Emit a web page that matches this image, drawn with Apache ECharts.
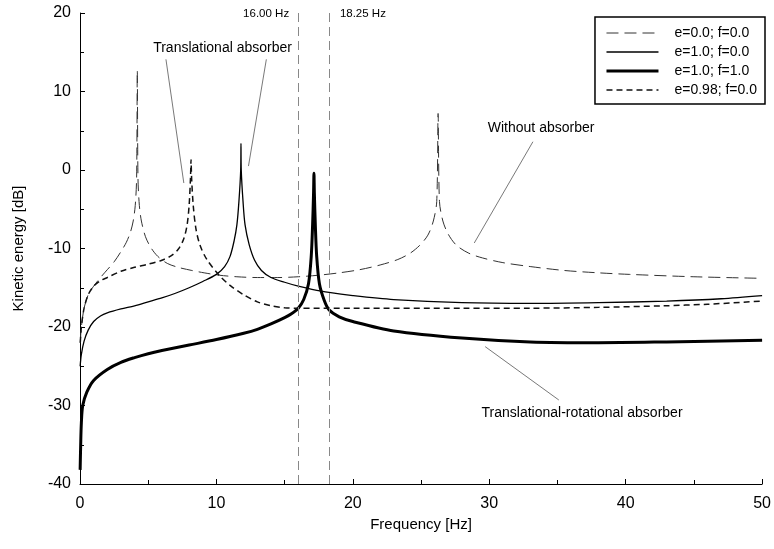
<!DOCTYPE html>
<html>
<head>
<meta charset="utf-8">
<script src="https://cdn.jsdelivr.net/npm/echarts@6/dist/echarts.min.js"></script>
<style>
  html, body { margin: 0; padding: 0; background: #fff; }
  #chart { width: 774px; height: 549px; }
</style>
</head>
<body>
<div id="chart"></div>
<script>
// frequency [Hz] / kinetic energy [dB]
var freqNoAbs = [0.02, 0.1, 0.3, 0.6, 1, 1.5, 2, 2.5, 3, 3.4, 3.7, 3.9, 4.05, 4.15, 4.2, 4.25, 4.35, 4.5, 4.8, 5.2, 5.7, 6.4, 7.2, 8.2, 9.1, 10.2, 11.5, 13, 14.5, 16, 17.5, 19, 20.5, 22, 23.3, 24.2, 24.9, 25.5, 25.9, 26.15, 26.25, 26.35, 26.6, 27.0, 27.6, 28.5, 29.5, 31, 33, 35.5, 38, 40.3, 45, 50];
var kinNoAbs  = [-22, -20, -17.6, -15.9, -14.8, -13.7, -12.7, -11.7, -10.4, -9.2, -7.9, -6.5, -4.5, -1, 12.7, -1, -4.5, -6.5, -8.5, -9.9, -11.0, -11.9, -12.4, -12.8, -13.1, -13.4, -13.6, -13.7, -13.7, -13.6, -13.4, -13.1, -12.7, -12.1, -11.4, -10.6, -9.6, -8.3, -6.5, -4, 7.2, -4, -6.5, -8.2, -9.6, -10.6, -11.2, -11.8, -12.3, -12.8, -13.1, -13.3, -13.6, -13.8];

var freqTrans = [0.01, 0.1, 0.3, 0.6, 1, 1.5, 2, 3, 4, 5, 6, 7, 8, 9, 10, 10.6, 11.0, 11.3, 11.5, 11.65, 11.78, 11.8, 11.82, 11.95, 12.1, 12.4, 12.8, 13.3, 14, 15, 16, 17, 18.25, 20, 23, 28, 33, 38, 43, 47, 50];
var kinTrans  = [-25, -23.5, -21.8, -20.4, -19.3, -18.6, -18.2, -17.7, -17.3, -16.8, -16.3, -15.7, -15.0, -14.2, -13.3, -12.3, -11, -9, -7, -4, 0, 3.4, 0, -4, -7, -9.5, -11.5, -12.8, -13.7, -14.3, -14.8, -15.2, -15.6, -16.0, -16.5, -16.9, -17.0, -16.9, -16.7, -16.4, -16.0];

var freqTransRot = [0.01, 0.05, 0.1, 0.2, 0.5, 1, 2, 3, 4, 5, 6, 8, 10, 12, 13, 14, 15, 15.5, 16, 16.4, 16.75, 16.95, 17.05, 17.12, 17.15, 17.18, 17.25, 17.35, 17.55, 17.9, 18.25, 19, 20, 23, 28, 33, 38, 43, 50];
var kinTransRot  = [-38.2, -35, -32.2, -30, -28.3, -26.8, -25.4, -24.5, -23.9, -23.4, -23.0, -22.3, -21.6, -20.8, -20.3, -19.6, -18.8, -18.3, -17.6, -16.5, -14.5, -11, -7, -3, -0.4, -3, -7, -11, -14.5, -16.6, -17.8, -18.7, -19.3, -20.5, -21.4, -21.9, -22.0, -21.9, -21.7];

var freqE098 = [0.02, 0.1, 0.3, 0.6, 1, 1.5, 2, 3, 4, 5, 6, 6.7, 7.2, 7.6, 7.85, 8.0, 8.1, 8.14, 8.18, 8.3, 8.5, 8.8, 9.3, 10.2, 11.0, 12, 13, 14, 15, 16, 20, 28, 33, 38, 42.8, 46, 50];
var kinE098  = [-22, -20, -17.6, -15.9, -14.8, -14.1, -13.7, -12.9, -12.4, -12.0, -11.5, -10.9, -10.1, -8.8, -7, -4.5, -1, 1.3, -1, -4.5, -7.5, -9.6, -11.4, -13.4, -14.7, -15.9, -16.8, -17.3, -17.55, -17.6, -17.6, -17.6, -17.6, -17.5, -17.3, -17.1, -16.7];

var seriesNames = ['e=0.0; f=0.0', 'e=1.0; f=0.0', 'e=1.0; f=1.0', 'e=0.98; f=0.0'];
var markerFreqs = [16.00, 18.25];

function pairs(xs, ys) {
  var out = [];
  for (var i = 0; i < xs.length; i++) {
    out.push([xs[i], ys[i]]);
  }
  return out;
}

var chart = echarts.init(document.getElementById('chart'));
var fontName = '"Liberation Sans", Arial, sans-serif';

var option = {
  animation: false,
  backgroundColor: '#fff',
  textStyle: { fontFamily: fontName },
  grid: { left: 80, right: 8, top: 13, bottom: 65, containLabel: false },
  legend: {
    data: seriesNames,
    orient: 'vertical',
    right: 9,
    top: 17,
    itemWidth: 52,
    itemHeight: 12,
    itemGap: 5,
    padding: [9, 8, 7, 10],
    borderColor: '#000',
    borderWidth: 1.5,
    selectedMode: false,
    itemStyle: { opacity: 0 },
    lineStyle: { width: 'inherit' },
    textStyle: { fontSize: 14, color: '#000', fontFamily: fontName, padding: [0, 0, 0, 11] }
  },
  xAxis: {
    type: 'value',
    min: 0, max: 50, interval: 10,
    name: 'Frequency [Hz]',
    nameLocation: 'middle',
    nameGap: 24,
    nameTextStyle: { fontSize: 15, color: '#000' },
    axisLine: { onZero: false, lineStyle: { color: '#000', width: 1 } },
    axisTick: { inside: true, length: 5, lineStyle: { color: '#000' } },
    minorTick: { show: true, splitNumber: 2, length: 4, lineStyle: { color: '#000' } },
    axisLabel: { fontSize: 16, color: '#000', margin: 12 },
    splitLine: { show: false }
  },
  yAxis: {
    type: 'value',
    min: -40, max: 20, interval: 10,
    name: 'Kinetic energy [dB]',
    nameLocation: 'middle',
    nameGap: 54,
    nameTextStyle: { fontSize: 15, color: '#000' },
    axisLine: { show: true, onZero: false, lineStyle: { color: '#000', width: 1 } },
    axisTick: { show: true, inside: true, length: 5, lineStyle: { color: '#000' } },
    minorTick: { show: true, splitNumber: 2, length: 4, lineStyle: { color: '#000' } },
    axisLabel: { fontSize: 16, color: '#000', margin: 9 },
    splitLine: { show: false }
  },
  series: [
    {
      name: seriesNames[0], type: 'line', symbol: 'none', silent: true,
      smooth: 0.3,
      data: pairs(freqNoAbs, kinNoAbs),
      lineStyle: { color: '#333', width: 1, type: [12, 6] },
      itemStyle: { color: '#333' }
    },
    {
      name: seriesNames[1], type: 'line', symbol: 'none', silent: true,
      smooth: 0.3,
      data: pairs(freqTrans, kinTrans),
      lineStyle: { color: '#000', width: 1.3, type: 'solid' },
      itemStyle: { color: '#000' }
    },
    {
      name: seriesNames[2], type: 'line', symbol: 'none', silent: true,
      smooth: 0.3,
      data: pairs(freqTransRot, kinTransRot),
      lineStyle: { color: '#000', width: 3, type: 'solid' },
      itemStyle: { color: '#000' }
    },
    {
      name: seriesNames[3], type: 'line', symbol: 'none', silent: true,
      smooth: 0.3,
      data: pairs(freqE098, kinE098),
      lineStyle: { color: '#111', width: 1.5, type: [6, 4] },
      itemStyle: { color: '#111' }
    },
    {
      // helper series for the reference lines and annotations
      name: 'annot', type: 'line', symbol: 'none', silent: true, data: [],
      markLine: {
        silent: true,
        symbol: ['none', 'none'],
        label: { show: false },
        data: [
          { xAxis: markerFreqs[0], lineStyle: { color: '#888', width: 1, type: [9, 5] } },
          { xAxis: markerFreqs[1], lineStyle: { color: '#888', width: 1, type: [9, 5] } },
          [{ coord: [6.3, 14.1] }, { coord: [7.61, -1.66] }],
          [{ coord: [13.66, 14.1] }, { coord: [12.35, 0.5] }],
          [{ coord: [33.2, 3.6] }, { coord: [28.9, -9.3] }],
          [{ coord: [29.7, -22.5] }, { coord: [35.1, -29.3] }]
        ],
        lineStyle: { color: '#555', width: 0.8, type: 'solid' }
      },
      markPoint: {
        silent: true,
        symbol: 'circle',
        symbolSize: 0,
        label: { show: true, color: '#000', fontSize: 14, fontFamily: fontName },
        data: [
          { coord: [10.45, 15.5], value: 'Translational absorber', label: { position: 'inside', formatter: 'Translational absorber' } },
          { coord: [33.8, 5.35], value: 'Without absorber', label: { position: 'inside', formatter: 'Without absorber' } },
          { coord: [36.8, -31], value: 'Translational-rotational absorber', label: { position: 'inside', formatter: 'Translational-rotational absorber' } },
          { coord: [15.33, 19.87], value: '16.00 Hz', label: { position: 'left', distance: 0, fontSize: 11.5, formatter: '16.00 Hz' } },
          { coord: [19.05, 19.87], value: '18.25 Hz', label: { position: 'right', distance: 0, fontSize: 11.5, formatter: '18.25 Hz' } }
        ]
      }
    }
  ]
};

chart.setOption(option);
</script>
</body>
</html>
